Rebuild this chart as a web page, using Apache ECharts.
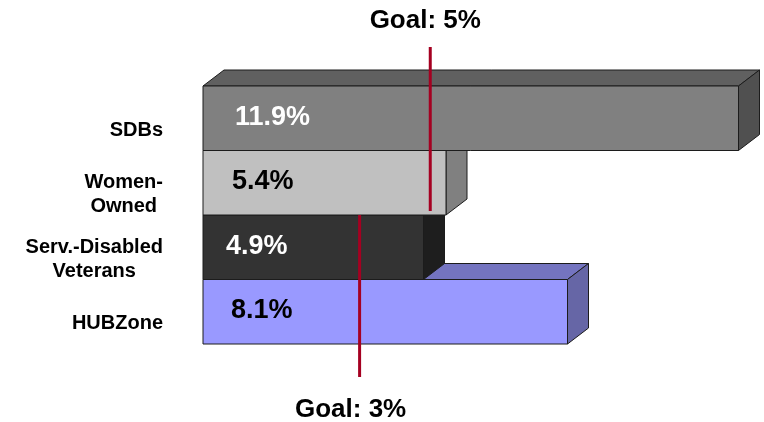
<!DOCTYPE html>
<html><head><meta charset="utf-8">
<script src="https://cdn.jsdelivr.net/npm/echarts@6/dist/echarts.min.js"></script>
<style>html,body{margin:0;padding:0;background:#fff}#c{width:764px;height:422px}</style>
</head><body><div id="c"></div>
<script>
// ---- data ----
const categories = ['SDBs', 'Women-\nOwned', 'Serv.-Disabled\nVeterans', 'HUBZone'];
const values = [11.9, 5.4, 4.9, 8.1];
const valueLabels = ['11.9%', '5.4%', '4.9%', '8.1%'];
const goalLabels = ['Goal: 5%', 'Goal: 3%'];
const goalPositions = [5.05, 3.48];

// ---- styles ----
const FONT = "'Liberation Sans', Arial, sans-serif";
const frontColors = ['#808080', '#c0c0c0', '#333333', '#9999ff'];
const topColors = ['#606060', '#9a9a9a', '#262626', '#7474c0'];
const sideColors = ['#505050', '#808080', '#1e1e1e', '#6666a6'];
const labelColors = ['#ffffff', '#000000', '#ffffff', '#000000'];
const labelOffsets = [32, 29, 23, 28];
const DX = 21, DY = -16;
const EDGE = '#1c1c1c';

const chart = echarts.init(document.getElementById('c'), null, {renderer: 'canvas'});

function renderBar(params, api) {
  const i = api.value(0);
  const v = api.value(1);
  const p0 = api.coord([0, i]);
  const p1 = api.coord([v, i]);
  const h = api.size([0, 1])[1];
  const x0 = p0[0], x1 = p1[0];
  const yT = p0[1] - h / 2, yB = p0[1] + h / 2;
  const z = (categories.length - i) * 10;
  const edge = {stroke: EDGE, lineWidth: 1};
  return {
    type: 'group',
    children: [
      {type: 'polygon', z2: z, shape: {points: [[x0, yT], [x0 + DX, yT + DY], [x1 + DX, yT + DY], [x1, yT]]},
        style: Object.assign({fill: topColors[i]}, edge)},
      {type: 'polygon', z2: z, shape: {points: [[x1, yT], [x1 + DX, yT + DY], [x1 + DX, yB + DY], [x1, yB]]},
        style: Object.assign({fill: sideColors[i]}, edge)},
      {type: 'rect', z2: z + 1, shape: {x: x0, y: yT, width: x1 - x0, height: yB - yT},
        style: Object.assign({fill: frontColors[i]}, edge)},
      {type: 'text', z2: z + 2, x: x0 + labelOffsets[i], y: p0[1] - 1,
        style: {text: valueLabels[i], fill: labelColors[i], font: 'bold 27px ' + FONT,
          textAlign: 'left', textVerticalAlign: 'middle'}}
    ]
  };
}

function renderGoal(params, api) {
  const g = api.value(0);
  const k = api.value(1);
  const h = api.size([0, 1])[1];
  const x = api.coord([g, 0])[0];
  let y1, y2, ty;
  if (k === 0) {
    y1 = api.coord([g, 0])[1] - h / 2 - 39;
    y2 = api.coord([g, 1])[1] + h / 2 - 4;
    ty = y1 - 26;
  } else {
    y1 = api.coord([g, 2])[1] - h / 2;
    y2 = api.coord([g, 3])[1] + h / 2 + 33;
    ty = y2 + 33;
  }
  return {
    type: 'group',
    children: [
      {type: 'line', z2: 100, shape: {x1: x, y1: y1, x2: x, y2: y2},
        style: {stroke: '#a50021', lineWidth: 3}},
      {type: 'text', z2: 100, x: x - (k === 0 ? 5 : 9), y: ty,
        style: {text: goalLabels[k], fill: '#000', font: 'bold 26px ' + FONT,
          textAlign: 'center', textVerticalAlign: 'middle'}}
    ]
  };
}

chart.setOption({
  animation: false,
  backgroundColor: '#ffffff',
  grid: {left: 203, top: 86, width: 540, height: 258},
  xAxis: {type: 'value', min: 0, max: 12, show: false},
  yAxis: {
    type: 'category', data: categories, inverse: true,
    axisLine: {show: false}, axisTick: {show: false}, splitLine: {show: false},
    axisLabel: {
      margin: 40,
      padding: [24, 0, 0, 0],
      formatter: function (v) { return v.split('\n').map(s => '{c|' + s + '}').join('\n'); },
      rich: {c: {align: 'center', fontSize: 20, fontWeight: 'bold', fontFamily: FONT, color: '#000', lineHeight: 24}}
    }
  },
  series: [
    {type: 'custom', clip: false, renderItem: renderBar,
      encode: {x: 1, y: 0},
      data: values.map((v, i) => [i, v])},
    {type: 'custom', clip: false, renderItem: renderGoal, z: 10,
      encode: {x: 0},
      data: goalPositions.map((g, k) => [g, k])}
  ]
});
</script></body></html>
